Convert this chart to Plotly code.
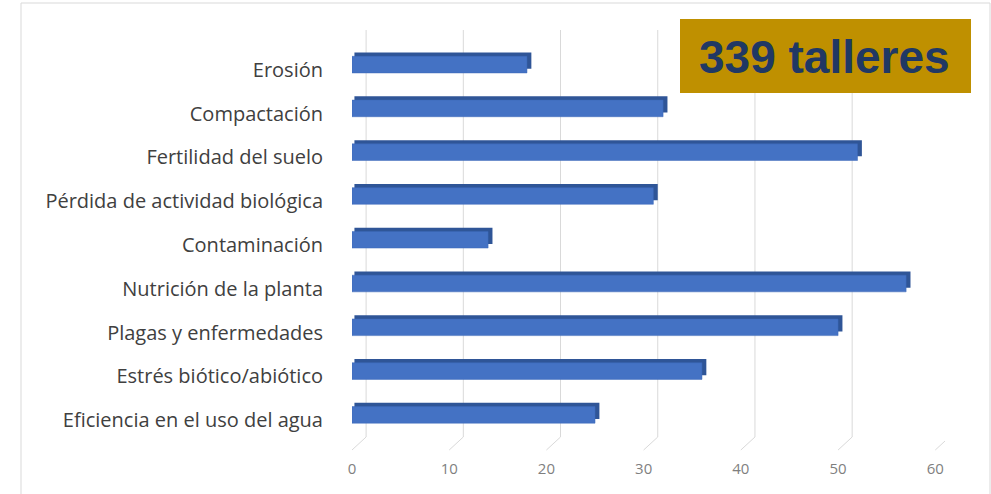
import plotly.graph_objects as go

# Survey topics (top to bottom) and number of workshops citing each
categories = [
    "Erosión",
    "Compactación",
    "Fertilidad del suelo",
    "Pérdida de actividad biológica",
    "Contaminación",
    "Nutrición de la planta",
    "Plagas y enfermedades",
    "Estrés biótico/abiótico",
    "Eficiencia en el uso del agua",
]
values = [18, 32, 52, 31, 14, 57, 50, 36, 25]
tick_values = [0, 10, 20, 30, 40, 50, 60]
badge_text = "339 talleres"

W, H = 991, 494
ML, MR, MT, MB = 352, 46, 48, 52
PW, PH = W - ML - MR, H - MT - MB
X_MAX = 61
DEPTH = 0.45      # horizontal depth of the pseudo-3D bars, in value units
TOP_START = 0.25  # where the top face begins on the left


def px_x(p):
    return (p - ML) / PW


def px_y(p):
    return (H - MB - p) / PH


fig = go.Figure()

# Top/right faces of each bar (darker), drawn behind the front face
fig.add_trace(go.Bar(
    y=categories, x=[v + DEPTH - TOP_START for v in values],
    base=[TOP_START] * len(values), orientation="h",
    offset=-0.395, width=0.37,
    marker=dict(color="#2F5597", line=dict(width=0)),
    hoverinfo="skip", showlegend=False,
))
# Front face of each bar
fig.add_trace(go.Bar(
    y=categories, x=values, orientation="h",
    offset=-0.31, width=0.38,
    marker=dict(color="#4472C4", line=dict(color="#3D69B8", width=0.5)),
    showlegend=False,
))

# Back-wall gridlines sit slightly right of the floor tick labels
shift = 1.45
shapes = []
for v in tick_values:
    shapes.append(dict(
        type="line", xref="x", yref="paper",
        x0=v + shift, x1=v + shift, y0=px_y(437), y1=px_y(30),
        line=dict(color="#D9D9D9", width=1), layer="below",
    ))
    shapes.append(dict(
        type="line", xref="x", yref="paper",
        x0=v + shift, x1=v, y0=px_y(437), y1=px_y(450),
        line=dict(color="#D9D9D9", width=1), layer="below",
    ))

# Outer chart frame
shapes.append(dict(
    type="rect", xref="paper", yref="paper",
    x0=px_x(21), x1=px_x(990), y0=px_y(500), y1=px_y(3),
    line=dict(color="#D9D9D9", width=1), fillcolor="rgba(0,0,0,0)",
))
# Badge box
shapes.append(dict(
    type="rect", xref="paper", yref="paper",
    x0=px_x(680), x1=px_x(971), y0=px_y(93), y1=px_y(19),
    line=dict(width=0), fillcolor="#BF9000", layer="above",
))

fig.update_layout(
    width=W, height=H,
    margin=dict(l=ML, r=MR, t=MT, b=MB),
    paper_bgcolor="white", plot_bgcolor="white",
    barmode="overlay",
    shapes=shapes,
    annotations=[dict(
        text=f"<b>{badge_text}</b>", xref="paper", yref="paper",
        x=px_x(824), y=px_y(57), xanchor="center", yanchor="middle",
        showarrow=False,
        font=dict(family="Liberation Sans, Arial", size=46, color="#203864"),
    )],
    xaxis=dict(
        range=[0, X_MAX], tickvals=tick_values, showgrid=False, zeroline=False,
        showline=False, ticks="", ticklabelstandoff=16,
        tickfont=dict(family="Open Sans, sans-serif", size=15, color="#7F7F7F"),
    ),
    yaxis=dict(
        categoryorder="array", categoryarray=categories, autorange="reversed",
        showgrid=False, zeroline=False, showline=False, ticks="",
        ticklabelstandoff=28,
        tickfont=dict(family="Open Sans, sans-serif", size=20, color="#404040"),
    ),
)

fig.write_html("out.html")
